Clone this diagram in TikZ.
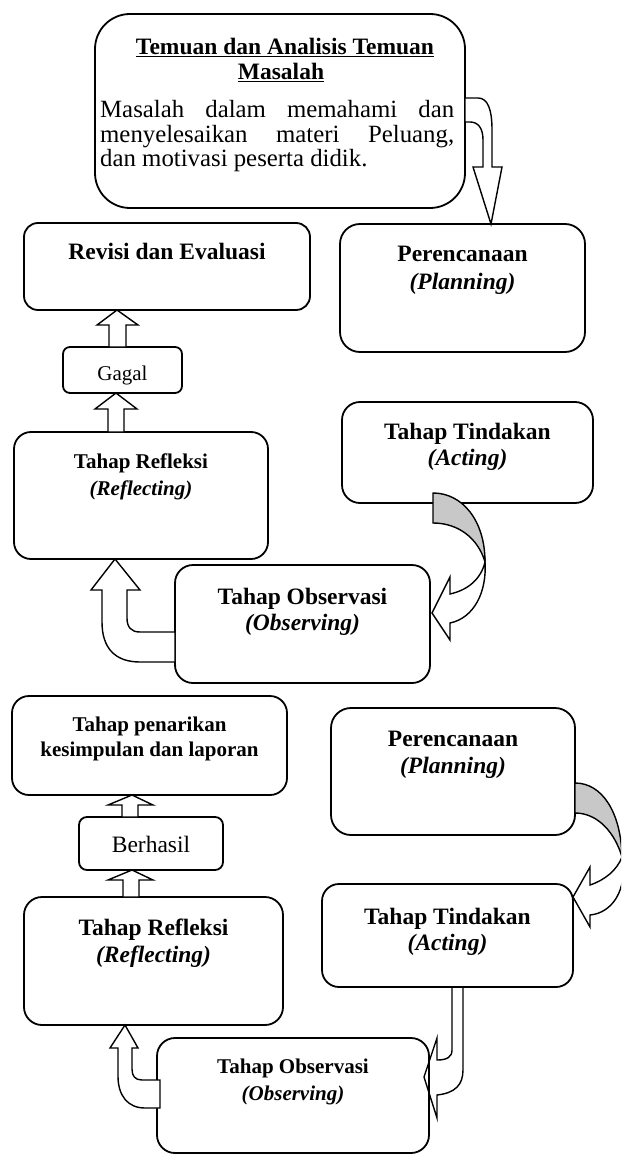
\documentclass[tikz,border=0pt]{standalone}
\usepackage{fontspec}
\setmainfont{Liberation Serif}
\definecolor{arrowgray}{RGB}{200,200,200}
\newcommand\fzA{\fontsize{23.5}{28}\selectfont\bfseries}
\newcommand\fzB{\fontsize{21}{25}\selectfont\bfseries}
\newcommand\fzR{\fontsize{24.8}{25}\selectfont}
\newcommand\fzG{\fontsize{21}{25}\selectfont}
\newcommand\fzH{\fontsize{23.5}{25}\selectfont}
\begin{document}
\begin{tikzpicture}[x=1pt,y=-1pt,
  rbox/.style={draw, line width=1.8pt, fill=white, anchor=north west, inner sep=0pt, outer sep=0pt},
  barrow/.style={draw, line width=1.4pt, fill=white, line join=miter},
  grayarrow/.style={draw, line width=1.4pt, fill=arrowgray, line join=miter},
  txt/.style={inner sep=0pt, anchor=base}]
\useasboundingbox (0,0) rectangle (621,1155);
\clip (0,0) rectangle (621,1155);

% boxes
\node[rbox, rounded corners=35pt, minimum width=370pt, minimum height=194pt] (temuan) at (95,14) {};
\node[rbox, rounded corners=14pt, minimum width=286pt, minimum height=87pt] (revisi) at (24,223) {};
\node[rbox, rounded corners=20pt, minimum width=245pt, minimum height=128pt] (renc1) at (340,224) {};
\node[rbox, rounded corners=7pt, minimum width=119pt, minimum height=46pt] (gagal) at (63,347) {};
\node[rbox, rounded corners=17pt, minimum width=254pt, minimum height=127pt] (refl1) at (14,432) {};
\node[rbox, rounded corners=18pt, minimum width=251pt, minimum height=101pt] (tind1) at (342,402) {};
\node[rbox, rounded corners=18pt, minimum width=255pt, minimum height=118pt] (obs1) at (175,565) {};
\node[rbox, rounded corners=17pt, minimum width=275pt, minimum height=99pt] (tarik) at (12,696) {};
\node[rbox, rounded corners=20pt, minimum width=244pt, minimum height=127pt] (renc2) at (331,708) {};
\node[rbox, rounded corners=8pt, minimum width=144pt, minimum height=53pt] (berhasil) at (79,817) {};
\node[rbox, rounded corners=18pt, minimum width=259pt, minimum height=128pt] (refl2) at (24,897) {};
\node[rbox, rounded corners=17pt, minimum width=251pt, minimum height=103pt] (tind2) at (322,884) {};
\node[rbox, rounded corners=18pt, minimum width=272pt, minimum height=115pt] (obs2) at (157,1038) {};

% texts
\node[txt, font=\fzA] (temuanT1) at (285,55) {\underline{Temuan dan Analisis Temuan}};
\node[txt, font=\fzA] (temuanT2) at (281,80) {\underline{Masalah}};
\node[txt, anchor=base west, font=\fzR] (temuanL1) at (100,118) {\hbox to 354pt{Masalah\hfill dalam\hfill memahami\hfill dan}};
\node[txt, anchor=base west, font=\fzR] (temuanL2) at (100,143) {\hbox to 354pt{menyelesaikan\hfill materi\hfill Peluang,}};
\node[txt, anchor=base west, font=\fzR] (temuanL3) at (100,167) {dan motivasi peserta didik.};

\node[txt, font=\fzA] (revisiT) at (revisi.north |- 0,260) {Revisi dan Evaluasi};
\node[txt, font=\fzA] (renc1T1) at (renc1.north |- 0,262) {Perencanaan};
\node[txt, font=\fzA] (renc1T2) at (renc1.north |- 0,290) {\textit{(Planning)}};
\node[txt, font=\fzG] (gagalT) at (gagal.north |- 0,380) {Gagal};
\node[txt, font=\fzB] (refl1T1) at (refl1.north |- 0,468) {Tahap Refleksi};
\node[txt, font=\fzB] (refl1T2) at (refl1.north |- 0,495) {\textit{(Reflecting)}};
\node[txt, font=\fzA] (tind1T1) at (tind1.north |- 0,439) {Tahap Tindakan};
\node[txt, font=\fzA] (tind1T2) at (tind1.north |- 0,465) {\textit{(Acting)}};
\node[txt, font=\fzA] (obs1T1) at (obs1.north |- 0,604) {Tahap Observasi};
\node[txt, font=\fzA] (obs1T2) at (obs1.north |- 0,630) {\textit{(Observing)}};
\node[txt, font=\fzB] (tarikT1) at (tarik.north |- 0,731) {Tahap penarikan};
\node[txt, font=\fzB] (tarikT2) at (tarik.north |- 0,756) {kesimpulan dan laporan};
\node[txt, font=\fzA] (renc2T1) at (renc2.north |- 0,746) {Perencanaan};
\node[txt, font=\fzA] (renc2T2) at (renc2.north |- 0,773) {\textit{(Planning)}};
\node[txt, font=\fzH] (berhasilT) at (berhasil.north |- 0,852) {Berhasil};
\node[txt, font=\fzA] (refl2T1) at (refl2.north |- 0,935) {Tahap Refleksi};
\node[txt, font=\fzA] (refl2T2) at (refl2.north |- 0,962) {\textit{(Reflecting)}};
\node[txt, font=\fzA] (tind2T1) at (tind2.north |- 0,924) {Tahap Tindakan};
\node[txt, font=\fzA] (tind2T2) at (tind2.north |- 0,950) {\textit{(Acting)}};
\node[txt, font=\fzB] (obs2T1) at (obs2.north |- 0,1073) {Tahap Observasi};
\node[txt, font=\fzB] (obs2T2) at (obs2.north |- 0,1100) {\textit{(Observing)}};

% straight up arrows
\draw[barrow] (109,0 |- gagal.north) -- (109,325) -- (97,325) -- (117,0 |- revisi.south) -- (138,325) -- (126,325) -- (126,0 |- gagal.north) -- cycle;
\draw[barrow] (108,0 |- refl1.north) -- (108,409) -- (95,409) -- (116,0 |- gagal.south) -- (137,409) -- (124,409) -- (124,0 |- refl1.north) -- cycle;
\draw[barrow] (122,0 |- berhasil.north) -- (122,805) -- (108,805) -- (132,0 |- tarik.south) -- (153,805) -- (138,805) -- (138,0 |- berhasil.north) -- cycle;
\draw[barrow] (123,0 |- refl2.north) -- (123,880) -- (108,880) -- (132,0 |- berhasil.south) -- (153,880) -- (139,880) -- (139,0 |- refl2.north) -- cycle;

% bent up arrows
\draw[barrow] (obs1.west |- 0,632) -- (140,632) .. controls (131,632) and (127,627) .. (127,618) -- (127,590) -- (140,590) -- (115,0 |- refl1.south) -- (91,590) -- (102,590) -- (102,622) .. controls (102,648) and (115,662) .. (140,662) -- (obs1.west |- 0,662) -- cycle;
\draw[barrow] (160,1080) -- (142,1080) .. controls (135,1080) and (132,1076) .. (132,1069) -- (132,1048) -- (138,1048) -- (125,0 |- refl2.south) -- (110,1048) -- (118,1048) -- (118,1076) .. controls (118,1096) and (128,1108) .. (145,1108) -- (160,1108) -- cycle;

% top bent arrow
\draw[barrow] (temuan.east |- 0,98) -- (478,98) .. controls (488,98) and (492,110) .. (492,130) -- (492,167) -- (502,167) -- (491,0 |- renc1.north) -- (473,167) -- (483,167) -- (483,140) .. controls (483,128) and (478,122) .. (470,122) -- (temuan.east |- 0,122) -- cycle;

% curved arrow tind1 -> obs1
\draw[grayarrow] (433,493) .. controls (462,493) and (485,520) .. (485,562) .. controls (478,538) and (458,523) .. (433,523) -- cycle;
\draw[barrow] (485,562) .. controls (487,592) and (474,618) .. (450,623) -- (450,640) -- (432,613) -- (450,577) -- (450,594) .. controls (468,590) and (481,579) .. (485,562) -- cycle;

% curved arrow renc2 -> tind2
\draw[grayarrow] (renc2.east |- 0,783) .. controls (602,783) and (621,812) .. (622,857) .. controls (615,833) and (598,813) .. (renc2.east |- 0,813) -- cycle;
\draw[barrow] (622,857) .. controls (628,890) and (612,913) .. (590,915) -- (590,927) -- (tind2.east |- 0,897) -- (590,867) -- (590,885) .. controls (605,880) and (617,870) .. (622,857) -- cycle;

% bent down arrow tind2 -> obs2
\draw[draw, line width=1.4pt, line join=miter] (452,0 |- tind2.south) -- (452,1050) .. controls (452,1057) and (447,1060) .. (437,1060) -- (437,1038) -- (424,1077) -- (437,1118) -- (437,1095) .. controls (455,1093) and (463,1085) .. (463,1070) -- (463,0 |- tind2.south) -- cycle;
\end{tikzpicture}
\end{document}
